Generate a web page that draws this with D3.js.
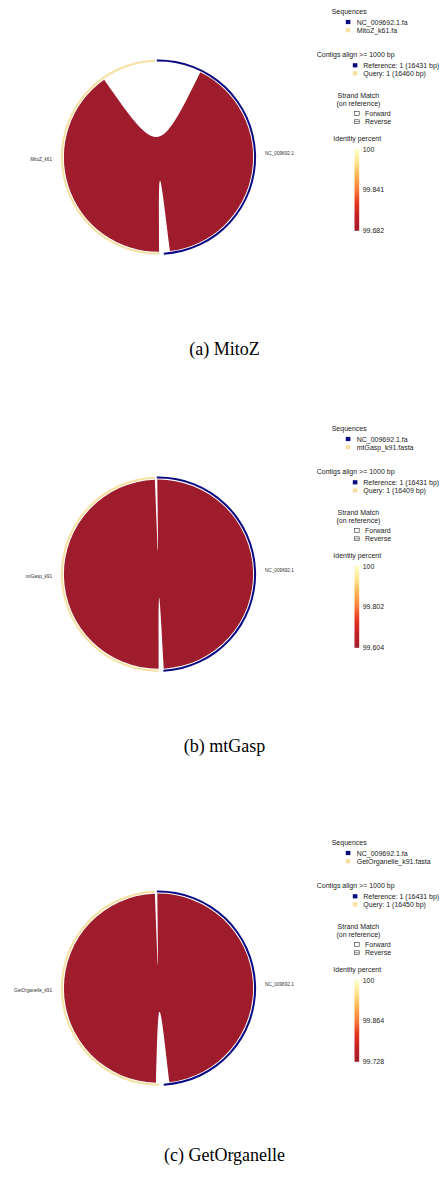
<!DOCTYPE html>
<html>
<head>
<meta charset="utf-8">
<script src="https://cdn.jsdelivr.net/npm/d3@7"></script>
<style>
  html, body { margin: 0; padding: 0; background: #fff; }
  svg { display: block; }
  .lg { font-family: "Liberation Sans", Arial, sans-serif; font-size: 7px; fill: #222; }
  .seqlab { font-family: "Liberation Sans", Arial, sans-serif; font-size: 4.7px; fill: #333; }
  .cap { font-family: "Liberation Serif", "Times New Roman", serif; font-size: 18px; fill: #000; }
</style>
</head>
<body>
<script>
// ---- data -------------------------------------------------------------
const captionTags   = ["(a)", "(b)", "(c)"];
const assemblers    = ["MitoZ", "mtGasp", "GetOrganelle"];
const refName       = "NC_009692.1";
const refFile       = "NC_009692.1.fa";
const refLength     = 16431;
const queryNames    = ["MitoZ_k61", "mtGasp_k91", "GetOrganelle_k91"];
const queryFiles    = ["MitoZ_k61.fa", "mtGasp_k91.fasta", "GetOrganelle_k91.fasta"];
const queryLengths  = [16460, 16409, 16450];
const contigCounts  = [1, 1, 1];
// one alignment block per assembly (bp coordinates)
const alnRefStart   = [2513, 25, 25];
const alnRefEnd     = [16081, 16402, 16108];
const alnQryStart   = [0, 0, 170];
const alnQryEnd     = [13424, 16409, 16450];
const alnIdentity   = [99.682, 99.604, 99.728];
const alnStrand     = ["+", "+", "+"];
const identityTicks = [["100", "99.841", "99.682"], ["100", "99.802", "99.604"], ["100", "99.864", "99.728"]];
const minAlignLen   = 1000;

// ---- layout -------------------------------------------------------------
const W = 440, H = 1194;
const panelTop   = [0, 417, 831];
const captionY   = [354.5, 751.5, 1160.5];
const cx = 158.5, cy = 157.2;
const rRibbon = 94.6, rIn = 95.6, rOut = 97.6, rLabel = 106.5;
const deg = Math.PI / 180;
const startAngle = -1.0 * deg;
const gapAfterRef = 2.8 * deg, gapAfterQry = 1.2 * deg;

const REF_COL = "#0a0a82";
const QRY_COL = "#f7e0a2";
const identityColors = ["#ffffcc", "#fee38b", "#fdb14e", "#f77a3a", "#e3321f", "#c21f26", "#9e1c2b"];

const svg = d3.select("body").append("svg")
  .attr("width", W).attr("height", H)
  .attr("viewBox", `0 0 ${W} ${H}`);

const defs = svg.append("defs");

function pt(a, r) { return [r * Math.sin(a), -r * Math.cos(a)]; }

// circos-style ribbon: cubic bezier edges with both control points at the centre
function ribbonPath(s0, s1, t0, t1, r) {
  const p = d3.path();
  const a = pt(s0, r);
  p.moveTo(a[0], a[1]);
  p.arc(0, 0, r, s0 - Math.PI / 2, s1 - Math.PI / 2);
  const b = pt(t0, r);
  p.bezierCurveTo(0, 0, 0, 0, b[0], b[1]);
  p.arc(0, 0, r, t0 - Math.PI / 2, t1 - Math.PI / 2);
  p.bezierCurveTo(0, 0, 0, 0, a[0], a[1]);
  p.closePath();
  return p.toString();
}

panelTop.forEach((top, i) => {
  const g = svg.append("g").attr("transform", `translate(0,${top})`);

  // angular scales for the two sequences
  const totalBp = refLength + queryLengths[i];
  const k = (2 * Math.PI - gapAfterRef - gapAfterQry) / totalBp;
  const refA0 = startAngle, refA1 = refA0 + refLength * k;
  const qryA0 = refA1 + gapAfterRef, qryA1 = qryA0 + queryLengths[i] * k;
  const refScale = d3.scaleLinear().domain([0, refLength]).range([refA0, refA1]);
  const qryScale = d3.scaleLinear().domain([0, queryLengths[i]]).range([qryA0, qryA1]);

  const identityScale = d3.scaleLinear()
    .domain(d3.range(identityColors.length).map(j => alnIdentity[i] + (100 - alnIdentity[i]) * j / (identityColors.length - 1)).reverse())
    .range(identityColors);

  const circ = g.append("g").attr("transform", `translate(${cx},${cy})`);

  // alignment ribbon
  circ.append("path")
    .attr("d", ribbonPath(refScale(alnRefStart[i]), refScale(alnRefEnd[i]),
                          qryScale(alnQryStart[i]), qryScale(alnQryEnd[i]), rRibbon))
    .attr("fill", identityScale(alnIdentity[i]))
    .attr("stroke", "none");

  // sequence ideograms
  const ring = d3.arc().innerRadius(rIn).outerRadius(rOut);
  circ.append("path").attr("d", ring({ startAngle: refA0, endAngle: refA1 })).attr("fill", REF_COL);
  circ.append("path").attr("d", ring({ startAngle: qryA0, endAngle: qryA1 })).attr("fill", QRY_COL);

  // sequence labels at the middle of each ideogram
  const refMid = (refA0 + refA1) / 2, qryMid = (qryA0 + qryA1) / 2;
  const pr = pt(refMid, rLabel), pq = pt(qryMid, rLabel);
  circ.append("text").attr("class", "seqlab").attr("x", pr[0]).attr("y", pr[1] + 1.6)
    .attr("text-anchor", "start").text(refName);
  circ.append("text").attr("class", "seqlab").attr("x", pq[0]).attr("y", pq[1] + 1.6)
    .attr("text-anchor", "end").text(queryNames[i]);

  // ---- legend ----
  const lg = g.append("g");
  lg.append("text").attr("class", "lg").attr("x", 331.7).attr("y", 13.6).text("Sequences");
  [[refFile, REF_COL], [queryFiles[i], QRY_COL]].forEach((d, j) => {
    const y = 22 + j * 8.2;
    lg.append("rect").attr("x", 345.8).attr("y", y - 2.1).attr("width", 4.6).attr("height", 4.2).attr("fill", d[1]);
    lg.append("text").attr("class", "lg").attr("x", 356.7).attr("y", y + 2.5).text(d[0]);
  });

  lg.append("text").attr("class", "lg").attr("x", 316.7).attr("y", 56.9).text(`Contigs align >= ${minAlignLen} bp`);
  [[`Reference: ${contigCounts[i]} (${refLength} bp)`, REF_COL],
   [`Query: ${contigCounts[i]} (${queryLengths[i]} bp)`, QRY_COL]].forEach((d, j) => {
    const y = 65.3 + j * 8.1;
    lg.append("rect").attr("x", 352.8).attr("y", y - 2.1).attr("width", 4.6).attr("height", 4.2).attr("fill", d[1]);
    lg.append("text").attr("class", "lg").attr("x", 363.3).attr("y", y + 2.5).text(d[0]);
  });

  lg.append("text").attr("class", "lg").attr("x", 358.4).attr("y", 97.6).attr("text-anchor", "middle").text("Strand Match");
  lg.append("text").attr("class", "lg").attr("x", 358.4).attr("y", 105.6).attr("text-anchor", "middle").text("(on reference)");
  ["Forward", "Reverse"].forEach((s, j) => {
    const y = 113.4 + j * 8.3;
    lg.append("rect").attr("x", 354.6).attr("y", y - 1.9).attr("width", 4.6).attr("height", 3.8)
      .attr("fill", "#fff").attr("stroke", "#333").attr("stroke-width", 0.6);
    if (j === 1) {
      lg.append("line").attr("x1", 354.6).attr("x2", 359.2).attr("y1", y).attr("y2", y)
        .attr("stroke", "#333").attr("stroke-width", 0.5);
    }
    lg.append("text").attr("class", "lg").attr("x", 365).attr("y", y + 2.5).text(s);
  });

  lg.append("text").attr("class", "lg").attr("x", 333.3).attr("y", 140.9).text("Identity percent");

  // colour bar
  const barTop = 149, barBot = 230.8;
  const barScale = d3.scaleLinear().domain([+identityTicks[i][2], +identityTicks[i][0]]).range([barBot, barTop]);
  const gradId = "idgrad" + i;
  const grad = defs.append("linearGradient").attr("id", gradId)
    .attr("x1", 0).attr("y1", 1).attr("x2", 0).attr("y2", 0);
  d3.range(0, 1.0001, 0.05).forEach(t => {
    const v = alnIdentity[i] + (100 - alnIdentity[i]) * t;
    grad.append("stop").attr("offset", t).attr("stop-color", identityScale(v));
  });
  lg.append("rect").attr("x", 354.5).attr("y", barTop).attr("width", 4.7).attr("height", barBot - barTop)
    .attr("fill", `url(#${gradId})`);
  identityTicks[i].forEach(t => {
    lg.append("text").attr("class", "lg").attr("x", 362.7).attr("y", barScale(+t) + 2.5).text(t);
  });

  // caption
  svg.append("text").attr("class", "cap").attr("x", 224.5).attr("y", captionY[i])
    .attr("text-anchor", "middle").text(`${captionTags[i]} ${assemblers[i]}`);
});
</script>
</body>
</html>
